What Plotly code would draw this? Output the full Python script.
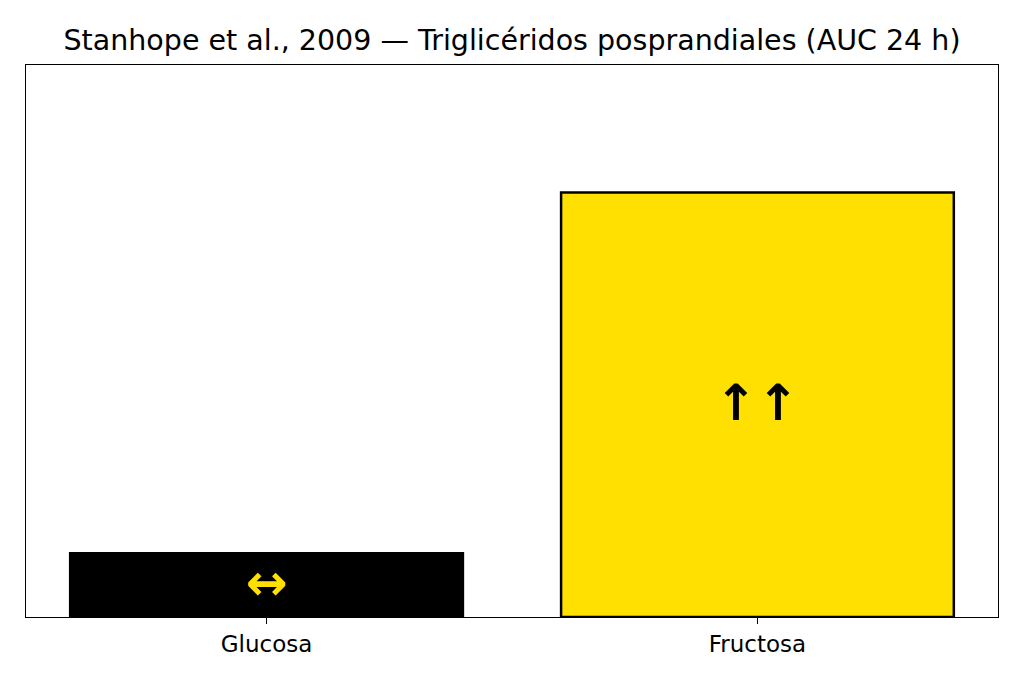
import plotly.graph_objects as go

categories = ["Glucosa", "Fructosa"]
values = [0.15, 1.0]
bar_colors = ["#000000", "#FFE000"]
symbols = ["↔", "↑↑"]
symbol_colors = ["#FFE000", "#000000"]
title = "Stanhope et al., 2009 — Triglicéridos posprandiales (AUC 24 h)"

xpos = list(range(len(categories)))

fig = go.Figure()
fig.add_trace(go.Bar(
    x=xpos, y=values, width=0.8,
    marker=dict(color=bar_colors, line=dict(color="black", width=2.5)),
    hoverinfo="skip",
))

for x, v, s, c in zip(xpos, values, symbols, symbol_colors):
    fig.add_annotation(x=x, y=v / 2, text=f"<b>{s}</b>", showarrow=False,
                       font=dict(family="DejaVu Sans", size=50, color=c),
                       xanchor="center", yanchor="middle", yshift=2)

fig.update_layout(
    width=1024, height=683,
    margin=dict(l=18, r=34, t=57, b=74),
    paper_bgcolor="white", plot_bgcolor="white",
    showlegend=False,
    title=dict(text=title, x=(512 - 8) / 1024, xanchor="center", y=1 - 32 / 683, yanchor="middle",
               font=dict(family="DejaVu Sans", size=28.5, color="black")),
    font=dict(family="DejaVu Sans", color="black"),
)
fig.update_xaxes(
    range=[-0.49, 1.49], tickvals=xpos, ticktext=categories,
    ticks="outside", ticklen=6, tickwidth=1.2, tickcolor="black",
    tickfont=dict(size=23, color="black"),
    showline=True, linecolor="black", linewidth=1.3, mirror=True,
    showgrid=False, zeroline=False,
)
fig.update_yaxes(
    range=[0, 1.3], showticklabels=False, ticks="",
    showline=True, linecolor="black", linewidth=1.3, mirror=True,
    showgrid=False, zeroline=False,
)

fig.write_html("out.html")
